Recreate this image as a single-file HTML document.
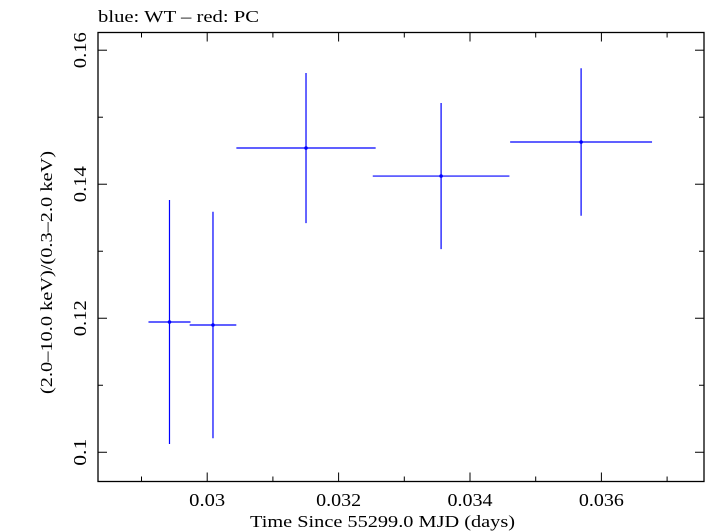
<!DOCTYPE html>
<html><head><meta charset="utf-8"><style>
body{margin:0;background:#fff;}
svg{display:block;font-family:"Liberation Serif",serif;}
</style></head><body>
<svg id="chart" width="705" height="532" xmlns="http://www.w3.org/2000/svg">
<text x="98" y="22" font-size="17" textLength="161" lengthAdjust="spacingAndGlyphs">blue: WT – red: PC</text>
<rect x="98" y="32.5" width="606" height="449" fill="none" stroke="#000" stroke-width="1.3"/>
<g id="axes"></g>
<g id="marks"></g>
<text x="250" y="527" font-size="17" textLength="265" lengthAdjust="spacingAndGlyphs">Time Since 55299.0 MJD (days)</text>
<text transform="translate(52,394) rotate(-90)" font-size="17" textLength="243" lengthAdjust="spacingAndGlyphs">(2.0–10.0 keV)/(0.3–2.0 keV)</text>
</svg>
<script>
const times=[0.029426,0.030088,0.031504,0.033560,0.035691];
const timeErr=[0.00032,0.000355,0.00106,0.00104,0.00108];
const ratios=[0.11944,0.11899,0.14540,0.14122,0.14630];
const ratioErr=[0.0182,0.0169,0.0112,0.0109,0.011];
const xTicks=[0.030,0.032,0.034,0.036];
const xTickLabels=["0.03","0.032","0.034","0.036"];
const yTicks=[0.10,0.12,0.14,0.16];
const yTickLabels=["0.1","0.12","0.14","0.16"];
const NS="http://www.w3.org/2000/svg";
const x=t=>207.2+(t-0.030)*65700;
const y=v=>50.2+(0.16-v)*6701;
const L=98,R=704,T=32.5,B=481.5;
function mk(tag,attrs,parent){const e=document.createElementNS(NS,tag);for(const k in attrs)e.setAttribute(k,attrs[k]);parent.appendChild(e);return e;}
const ax=document.getElementById('axes'),mg=document.getElementById('marks');
for(let t=0.029;t<=0.0375;t+=0.001){const px=x(t);const major=xTicks.some(v=>Math.abs(v-t)<1e-7);const len=major?9:5;
const a=mk('line',{x1:px,x2:px,y1:B,y2:B-len,stroke:'#000','stroke-width':1},ax);


const b=mk('line',{x1:px,x2:px,y1:T,y2:T+len,stroke:'#000','stroke-width':1},ax);

}
xTicks.forEach((t,i)=>{const e=mk('text',{x:x(t),y:506,'font-size':18,'text-anchor':'middle',textLength:xTickLabels[i].length*9,lengthAdjust:'spacingAndGlyphs'},ax);e.textContent=xTickLabels[i];

});
for(let v=0.09;v<=0.1625;v+=0.01){const py=y(v);if(py<T||py>B)continue;const major=yTicks.some(w=>Math.abs(w-v)<1e-7);const len=major?9:5;
const a=mk('line',{x1:L,x2:L+len,y1:py,y2:py,stroke:'#000','stroke-width':1},ax);


const b=mk('line',{x1:R,x2:R-len,y1:py,y2:py,stroke:'#000','stroke-width':1},ax);

}
yTicks.forEach((v,i)=>{const e=mk('text',{transform:`translate(86,${y(v)}) rotate(-90)`,'font-size':18,'text-anchor':'middle',textLength:yTickLabels[i].length*9,lengthAdjust:'spacingAndGlyphs'},ax);e.textContent=yTickLabels[i];

});
times.forEach((t,i)=>{
const g=mk('g',{},mg);


mk('line',{x1:x(t-timeErr[i]),x2:x(t+timeErr[i]),y1:y(ratios[i]),y2:y(ratios[i]),stroke:'#0000ff','stroke-width':1.2},g);
mk('line',{x1:x(t),x2:x(t),y1:y(ratios[i]+ratioErr[i]),y2:y(ratios[i]-ratioErr[i]),stroke:'#0000ff','stroke-width':1.2},g);
mk('circle',{cx:x(t),cy:y(ratios[i]),r:1.8,fill:'#0000ff'},g);
});
</script>
</body></html>
